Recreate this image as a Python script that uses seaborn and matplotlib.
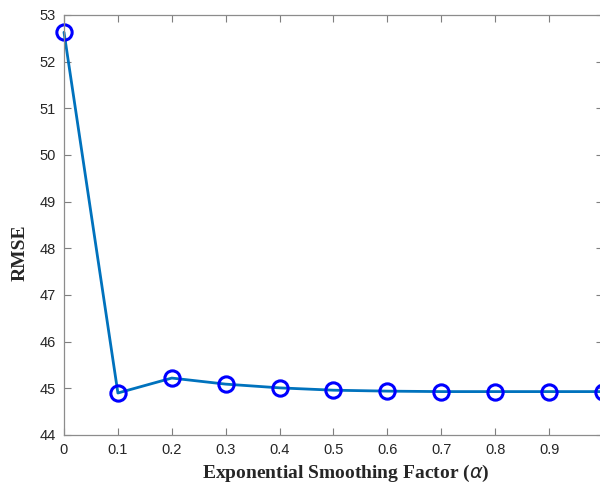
import matplotlib
matplotlib.use("Agg")
import matplotlib.pyplot as plt
import seaborn as sns
import pandas as pd

alpha = [0.0, 0.1, 0.2, 0.3, 0.4, 0.5, 0.6, 0.7, 0.8, 0.9, 1.0]
rmse = [52.63, 44.90, 45.22, 45.09, 45.01, 44.96, 44.94, 44.93, 44.93, 44.93, 44.93]
xticks = [0, 0.1, 0.2, 0.3, 0.4, 0.5, 0.6, 0.7, 0.8, 0.9]
xtick_labels = ["0", "0.1", "0.2", "0.3", "0.4", "0.5", "0.6", "0.7", "0.8", "0.9"]
yticks = [44, 45, 46, 47, 48, 49, 50, 51, 52, 53]

df = pd.DataFrame({"alpha": alpha, "rmse": rmse})

sns.set_theme(style="white")
plt.rcParams["font.family"] = ["Liberation Sans", "DejaVu Sans"]

fig = plt.figure(figsize=(6.0, 4.83), dpi=100)
# axes runs a little past the right edge, like the cropped original
ax = fig.add_axes([64 / 600, (483 - 435) / 483, (603 - 64) / 600, (435 - 15) / 483])

sns.lineplot(data=df, x="alpha", y="rmse", ax=ax, color="#0072BD", linewidth=2.0,
             marker="o", markersize=11, markerfacecolor="none",
             markeredgecolor="#0000FF", markeredgewidth=2.2, clip_on=False)

ax.set_xlim(0, 1)
ax.set_ylim(44, 53)
ax.set_xticks(xticks)
ax.set_xticklabels(xtick_labels)
ax.set_yticks(yticks)
ax.tick_params(direction="in", length=5, width=0.8, colors="#7f7f7f",
               labelcolor="#262626", labelsize=10.5, top=True, right=True,
               bottom=True, left=True, pad=6)
for s in ax.spines.values():
    s.set_color("#8c8c8c")
    s.set_linewidth(0.9)

ax.set_xlabel("Exponential Smoothing Factor ($\\mathit{\\alpha}$)", fontsize=14,
              fontweight="bold", family="Liberation Serif")
ax.set_ylabel("RMSE", fontsize=14, fontweight="bold", family="Liberation Serif")
ax.xaxis.set_label_coords(0.523, -0.067)
ax.yaxis.set_label_coords(-0.066, 0.435)

fig.savefig("out.png", dpi=100)
